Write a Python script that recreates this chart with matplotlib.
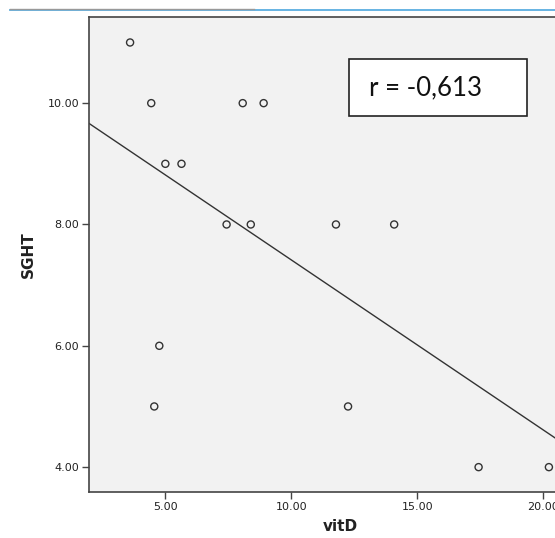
import numpy as np
import matplotlib
matplotlib.use('Agg')
import matplotlib.pyplot as plt
from matplotlib.patches import Rectangle
from matplotlib.lines import Line2D

# Data
vitD = [3.6, 4.44, 8.07, 8.9, 5.0, 5.64, 7.43, 8.39, 11.77, 14.08, 4.76, 4.56, 12.25, 17.43, 20.22]
SGHT = [11, 10, 10, 10, 9, 9, 8, 8, 8, 8, 6, 5, 5, 4, 4]
x_ticks = [5, 10, 15, 20]
y_ticks = [4, 6, 8, 10]
r_label = "r = -0,613"

W, H = 555, 538
fig = plt.figure(figsize=(W / 100, H / 100), dpi=100)

# plot area in pixels: left 89, top 17, bottom 492 (right edge runs off the image)
x_lo, x_hi = 1.97, 20.9
y_lo, y_hi = 3.59, 11.42
px_per_x = 25.2
ax_left = 89 / W
ax_w = (x_hi - x_lo) * px_per_x / W
ax = fig.add_axes([ax_left, (H - 492) / H, ax_w, (492 - 17) / H])
ax.set_facecolor('#f2f2f2')
ax.set_xlim(x_lo, x_hi)
ax.set_ylim(y_lo, y_hi)

ax.scatter(vitD, SGHT, s=26, facecolors='none', edgecolors='#333333', linewidths=1.0, zorder=3)

# fit line
slope, intercept = np.polyfit(vitD, SGHT, 1)
xs = np.array([x_lo, x_hi])
ax.plot(xs, slope * xs + intercept, color='#333333', linewidth=1.0, zorder=2)

ax.set_xticks(x_ticks)
ax.set_xticklabels([f"{v:.2f}" for v in x_ticks])
ax.set_yticks(y_ticks)
ax.set_yticklabels([f"{v:.2f}" for v in y_ticks])
ax.tick_params(direction='out', length=5, width=1, colors='#444444', labelsize=8,
               labelcolor='#222222', pad=2)
for side in ['left', 'bottom', 'top', 'right']:
    ax.spines[side].set_color('#444444')
    ax.spines[side].set_linewidth(1.2)

ax.set_xlabel('vitD', fontsize=11, fontweight='bold', color='#222222')
ax.xaxis.set_label_coords((340 - 89) / (ax_w * W), -(519 - 492) / (492 - 17))
ax.set_ylabel('SGHT', fontsize=11, fontweight='bold', color='#222222')
ax.yaxis.set_label_coords(-(89 - 36) / (ax_w * W), 0.5)

# correlation box
fig.patches.append(Rectangle((349 / W, 1 - 116 / H), (527 - 349) / W, (116 - 59) / H,
                             transform=fig.transFigure, facecolor='white',
                             edgecolor='#222222', linewidth=1.2, zorder=5))
fig.text(369 / W, 1 - 88 / H, r_label, fontsize=18.5, family='Lato',
         va='center', ha='left', color='#111111', zorder=6)

# header rules at the top of the slide
fig.add_artist(Line2D([10 / W, 1.0], [1 - 10.3 / H] * 2, color='#5aaee0', linewidth=1.3))
fig.add_artist(Line2D([10 / W, 254 / W], [1 - 9.0 / H] * 2, color='#999999', linewidth=1.0))

fig.savefig('out.png', dpi=100)
